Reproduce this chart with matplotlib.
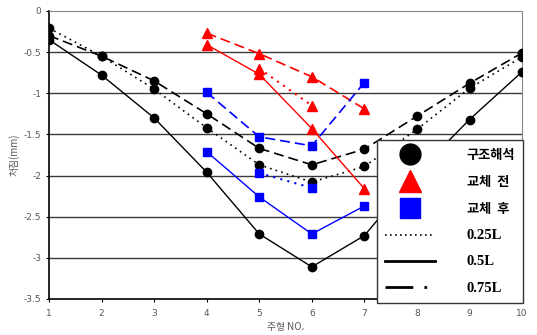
import matplotlib.pyplot as plt
from matplotlib.lines import Line2D

# 주형 번호
girder = [1, 2, 3, 4, 5, 6, 7, 8, 9, 10]
# 구조해석 (black)
fe_025 = [-0.21, -0.55, -0.95, -1.42, -1.87, -2.08, -1.89, -1.44, -0.94, -0.56]
fe_05 = [-0.35, -0.78, -1.30, -1.96, -2.71, -3.11, -2.73, -1.97, -1.32, -0.74]
fe_075 = [-0.30, -0.55, -0.85, -1.25, -1.67, -1.87, -1.68, -1.28, -0.88, -0.51]

# 교체 전 (red)
before_x = [4, 5, 6, 7]
before_05 = [-0.41, -0.77, -1.43, -2.16]
before_075 = [-0.27, -0.52, -0.80, -1.19]
before_025_x = [5, 6]
before_025 = [-0.70, -1.15]

# 교체 후 (blue)
after_x = [4, 5, 6, 7]
after_05 = [-1.71, -2.26, -2.71, -2.37]
after_075 = [-0.99, -1.53, -1.64, -0.87]
after_025_x = [5, 6]
after_025 = [-1.97, -2.15]

DOT = (0, (1, 2.5))
DASH = (0, (6, 3))

fig = plt.figure(figsize=(5.37, 3.35), dpi=100)
ax = fig.add_axes([0.0912, 0.1075, 0.881, 0.86])

for y in [-0.5, -1, -1.5, -2, -2.5, -3]:
    ax.axhline(y, color='#3a3a3a', lw=1, zorder=1)

ms = 6
ax.plot(girder, fe_025, color='black', ls=DOT, lw=1.2, marker='o', ms=ms, zorder=3)
ax.plot(girder, fe_05, color='black', ls='-', lw=1, marker='o', ms=ms, zorder=3)
ax.plot(girder, fe_075, color='black', ls=DASH, lw=1.2, marker='o', ms=ms, zorder=3)

ax.plot(before_x, before_05, color='red', ls='-', lw=1, marker='^', ms=ms + 1, zorder=3)
ax.plot(before_x, before_075, color='red', ls=DASH, lw=1.2, marker='^', ms=ms + 1, zorder=3)
ax.plot(before_025_x, before_025, color='red', ls=DOT, lw=1.5, marker='^', ms=ms + 1, zorder=3)

ax.plot(after_x, after_05, color='blue', ls='-', lw=1, marker='s', ms=ms, zorder=3)
ax.plot(after_x, after_075, color='blue', ls=DASH, lw=1.2, marker='s', ms=ms, zorder=3)
ax.plot(after_025_x, after_025, color='blue', ls=DOT, lw=1.5, marker='s', ms=ms, zorder=3)

ax.set_xlim(1, 10)
ax.set_ylim(-3.5, 0)
ax.set_xticks(girder)
ax.set_yticks([0, -0.5, -1, -1.5, -2, -2.5, -3, -3.5])
ax.set_yticklabels(['0', '-0.5', '-1', '-1.5', '-2', '-2.5', '-3', '-3.5'])
ax.tick_params(labelsize=6.5, labelcolor='#555555', length=2, width=0.8)
ax.tick_params(axis='x', pad=5)

ax.spines['top'].set_color('#888888')
ax.spines['right'].set_color('#888888')
ax.spines['left'].set_linewidth(1.2)
ax.spines['bottom'].set_linewidth(1.2)

ax.set_xlabel('주형 NO.', family=['Noto Sans CJK KR', 'DejaVu Sans'], fontsize=7, color='#555555', labelpad=3)
ax.set_ylabel('처짐(mm)', family=['Noto Sans CJK KR', 'DejaVu Sans'], fontsize=7, color='#555555', labelpad=3)

handles = [
    Line2D([], [], ls='none', marker='o', color='black', ms=15),
    Line2D([], [], ls='none', marker='^', color='red', ms=16),
    Line2D([], [], ls='none', marker='s', color='blue', ms=14),
    Line2D([], [], ls=(0, (1, 2)), color='black', lw=1.2),
    Line2D([], [], ls='-', color='black', lw=2),
    Line2D([], [], ls=(0, (10, 4, 1, 3, 1, 3)), color='black', lw=2),
]
labels = ['구조해석', '교체  전', '교체  후', '0.25L', '0.5L', '0.75L']
leg = fig.legend(handles, labels, loc='upper left', bbox_to_anchor=(0.702, 0.583),
                 borderaxespad=0, frameon=True, fancybox=False, edgecolor='#333333',
                 framealpha=1, handlelength=3.8, labelspacing=1.0, borderpad=0.6,
                 handletextpad=2.4,
                 prop={'family': ['Noto Sans CJK KR', 'DejaVu Sans'], 'weight': 'bold', 'size': 9.5})
leg.get_frame().set_linewidth(1)
for t in leg.get_texts()[3:]:
    t.set_fontfamily('Liberation Serif')
    t.set_fontsize(10.5)

fig.savefig('out.png', dpi=100)
